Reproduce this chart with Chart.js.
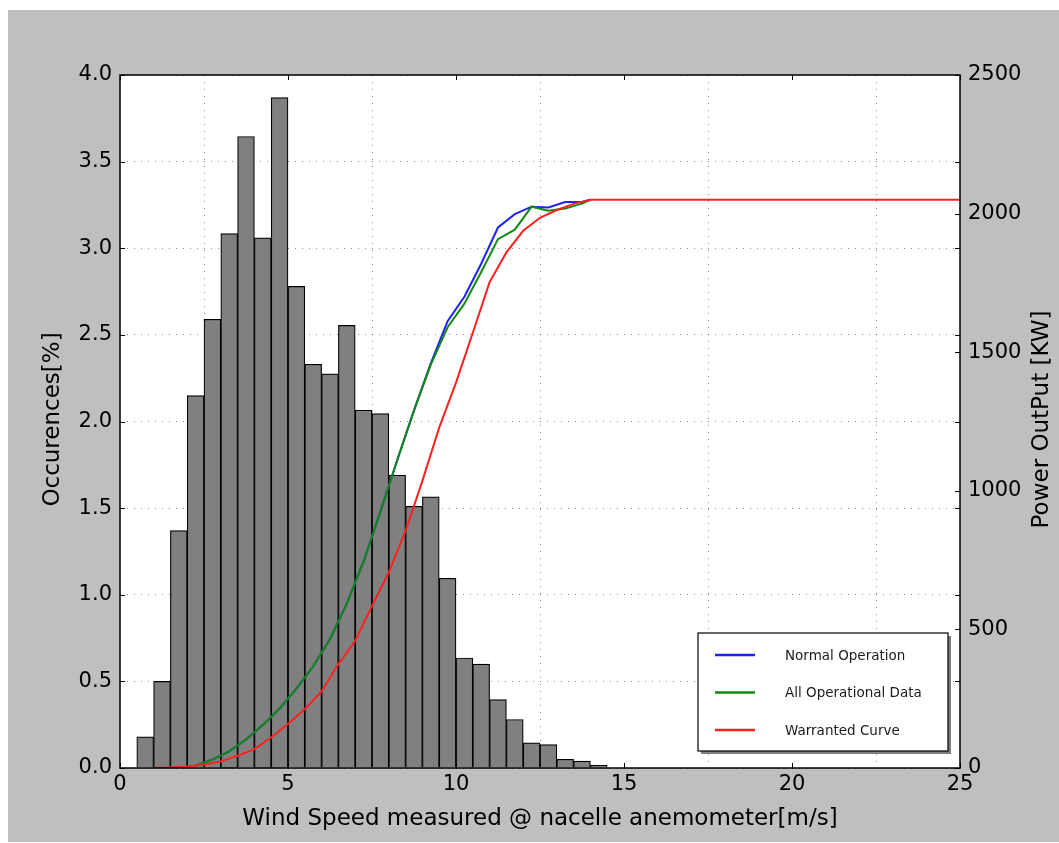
<!DOCTYPE html>
<html>
<head>
<meta charset="utf-8">
<script src="https://cdn.jsdelivr.net/npm/chart.js@4.4.0/dist/chart.umd.min.js"></script>
<style>
  html, body { margin: 0; padding: 0; background: #fff; }
  #wrap { width: 1059px; height: 843px; }
</style>
</head>
<body>
<div id="wrap"><canvas id="windChart" width="1059" height="843"></canvas></div>
<script>
// Histogramm: Klassenmitten (0.5 m/s Klassen) und Häufigkeit in %
const binCenters = [0.75, 1.25, 1.75, 2.25, 2.75, 3.25, 3.75, 4.25, 4.75, 5.25,
  5.75, 6.25, 6.75, 7.25, 7.75, 8.25, 8.75, 9.25, 9.75, 10.25,
  10.75, 11.25, 11.75, 12.25, 12.75, 13.25, 13.75, 14.25];
const occurrences = [0.18, 0.50, 1.37, 2.15, 2.59, 3.085, 3.645, 3.06, 3.87, 2.78,
  2.33, 2.275, 2.555, 2.065, 2.045, 1.69, 1.51, 1.565, 1.095, 0.635,
  0.60, 0.395, 0.28, 0.145, 0.135, 0.05, 0.04, 0.016];

// Gemessene Leistungskurven (kW)
const measuredSpeeds = [2.25, 2.75, 3.25, 3.75, 4.25, 4.75, 5.25, 5.75, 6.25, 6.75,
  7.25, 7.75, 8.25, 8.75, 9.25, 9.75, 10.25, 10.75, 11.25, 11.75,
  12.25, 12.75, 13.25, 13.75, 14.0];
const normalOperation = [8, 30, 60, 103, 155, 214, 286, 367, 465, 593,
  745, 925, 1110, 1290, 1460, 1612, 1700, 1819, 1950, 1998,
  2025, 2022, 2042, 2042, 2050];
const allOperational = [8, 30, 60, 103, 155, 214, 286, 367, 465, 593,
  745, 925, 1110, 1290, 1455, 1590, 1675, 1789, 1908, 1942,
  2025, 2010, 2018, 2036, 2050];

// Garantierte Leistungskurve
const warrantedSpeeds = [1, 1.5, 2, 2.5, 3, 3.5, 4, 4.5, 5, 5.5, 6, 6.5, 7, 7.5, 8,
  8.5, 9, 9.5, 10, 10.5, 11, 11.5, 12, 12.5, 13, 13.5, 14, 25];
const warrantedCurve = [0, 2, 5, 12, 24, 44, 68, 110, 159, 213, 276, 375, 459, 585, 705,
  856, 1036, 1228, 1390, 1570, 1753, 1860, 1938, 1985, 2013, 2035, 2050, 2050];

const xTicks = [0, 5, 10, 15, 20, 25];
const legendOrder = ['Normal Operation', 'All Operational Data', 'Warranted Curve'];

const tickFont = { family: 'DejaVu Sans', size: 21 };
const titleFont = { family: 'DejaVu Sans', size: 23 };
const gridColor = 'rgba(0,0,0,0.45)';

const toPoints = (xs, ys) => xs.map((x, i) => ({ x: x, y: ys[i] }));

// Hintergrund, Rahmen, Tick-Striche, Achsentitel und Legende im matplotlib-Stil
const mplStyle = {
  id: 'mplStyle',
  beforeDraw(chart) {
    const { ctx, chartArea: a } = chart;
    ctx.save();
    ctx.fillStyle = '#ffffff';
    ctx.fillRect(0, 0, chart.width, chart.height);
    ctx.fillStyle = '#bfbfbf';
    ctx.fillRect(8, 10, chart.width - 8, chart.height - 11);
    ctx.fillStyle = '#ffffff';
    ctx.fillRect(a.left, a.top, a.right - a.left, a.bottom - a.top);
    ctx.restore();
  },
  afterDraw(chart) {
    const { ctx, chartArea: a, scales } = chart;
    ctx.save();
    ctx.strokeStyle = '#000';
    ctx.lineWidth = 1;
    const len = 5;
    ctx.beginPath();
    xTicks.forEach(v => {
      const px = Math.round(scales.x.getPixelForValue(v)) + 0.5;
      ctx.moveTo(px, a.bottom); ctx.lineTo(px, a.bottom - len);
      ctx.moveTo(px, a.top); ctx.lineTo(px, a.top + len);
    });
    scales.y.ticks.forEach(t => {
      const py = Math.round(scales.y.getPixelForValue(t.value)) + 0.5;
      ctx.moveTo(a.left, py); ctx.lineTo(a.left + len, py);
      ctx.moveTo(a.right, py); ctx.lineTo(a.right - len, py);
    });
    scales.y2.ticks.forEach(t => {
      const py = Math.round(scales.y2.getPixelForValue(t.value)) + 0.5;
      ctx.moveTo(a.right, py); ctx.lineTo(a.right - len, py);
    });
    ctx.stroke();
    ctx.lineWidth = 1.5;
    ctx.strokeRect(a.left, a.top, a.right - a.left, a.bottom - a.top);

    // Achsentitel links und rechts (von unten nach oben gelesen)
    const midY = (a.top + a.bottom) / 2 - 2;
    ctx.fillStyle = '#000';
    ctx.font = '23px "DejaVu Sans"';
    ctx.textAlign = 'center';
    ctx.textBaseline = 'middle';
    [[53, 'Occurences[%]'], [1042, 'Power OutPut [KW]']].forEach(([tx, text]) => {
      ctx.save();
      ctx.translate(tx, midY);
      ctx.rotate(-Math.PI / 2);
      ctx.fillText(text, 0, 0);
      ctx.restore();
    });

    // Legende unten rechts
    const lines = legendOrder.map(l => chart.data.datasets.find(d => d.label === l));
    const w = 250, h = 118;
    const lx = a.right - 12 - w, ly = a.bottom - 17 - h;
    ctx.fillStyle = 'rgba(0,0,0,0.5)';
    ctx.fillRect(lx + 3, ly + 3, w, h);
    ctx.fillStyle = '#ffffff';
    ctx.fillRect(lx, ly, w, h);
    ctx.lineWidth = 1.2;
    ctx.strokeStyle = '#000';
    ctx.strokeRect(lx, ly, w, h);
    ctx.font = '13.5px "DejaVu Sans"';
    ctx.textAlign = 'left';
    ctx.textBaseline = 'middle';
    lines.forEach((d, i) => {
      const yy = ly + 22 + i * 37.5;
      ctx.strokeStyle = d.borderColor;
      ctx.lineWidth = 2.5;
      ctx.beginPath();
      ctx.moveTo(lx + 17, yy); ctx.lineTo(lx + 57, yy);
      ctx.stroke();
      ctx.fillStyle = '#1a1a1a';
      ctx.fillText(d.label, lx + 87, yy + 1);
    });
    ctx.restore();
  }
};

const ctx = document.getElementById('windChart').getContext('2d');
new Chart(ctx, {
  data: {
    datasets: [
      {
        type: 'line', label: 'Warranted Curve', yAxisID: 'y2', order: 0,
        data: toPoints(warrantedSpeeds, warrantedCurve),
        borderColor: '#ff2020', borderWidth: 2, pointRadius: 0, tension: 0
      },
      {
        type: 'line', label: 'All Operational Data', yAxisID: 'y2', order: 1,
        data: toPoints(measuredSpeeds, allOperational),
        borderColor: '#108a10', borderWidth: 2, pointRadius: 0, tension: 0
      },
      {
        type: 'line', label: 'Normal Operation', yAxisID: 'y2', order: 2,
        data: toPoints(measuredSpeeds, normalOperation),
        borderColor: '#2020ff', borderWidth: 2, pointRadius: 0, tension: 0
      },
      {
        type: 'bar', label: 'Occurences', yAxisID: 'y', order: 3,
        data: toPoints(binCenters, occurrences),
        backgroundColor: '#808080', borderColor: '#000', borderWidth: 1.2,
        barPercentage: 1, categoryPercentage: 1
      }
    ]
  },
  options: {
    responsive: false,
    animation: false,
    devicePixelRatio: 1,
    layout: { padding: { top: 75, left: 0, right: 0, bottom: 0 } },
    plugins: {
      legend: { display: false },
      tooltip: { enabled: false }
    },
    scales: {
      x: {
        type: 'linear', min: 0, max: 25, offset: false,
        afterFit: s => { s.height = 75; },
        ticks: { stepSize: 5, font: tickFont, color: '#000', padding: 4, maxRotation: 0 },
        grid: { color: gridColor, drawTicks: false, lineWidth: 1 },
        border: { display: false, dash: [1, 6] },
        title: {
          display: true, text: 'Wind Speed measured @ nacelle anemometer[m/s]',
          font: titleFont, color: '#000', padding: { top: 0, bottom: 10 }
        }
      },
      y: {
        position: 'left', min: 0, max: 4,
        afterFit: s => { s.width = 120; },
        ticks: { stepSize: 0.5, font: tickFont, color: '#000', padding: 8,
          callback: v => v.toFixed(1) },
        grid: { color: gridColor, drawTicks: false, lineWidth: 1 },
        border: { display: false, dash: [1, 6] }
      },
      y2: {
        position: 'right', min: 0, max: 2500,
        afterFit: s => { s.width = 99; },
        ticks: { stepSize: 500, font: tickFont, color: '#000', padding: 8,
          callback: v => String(v) },
        grid: { display: false, drawTicks: false },
        border: { display: false }
      }
    }
  },
  plugins: [mplStyle]
});
</script>
</body>
</html>
